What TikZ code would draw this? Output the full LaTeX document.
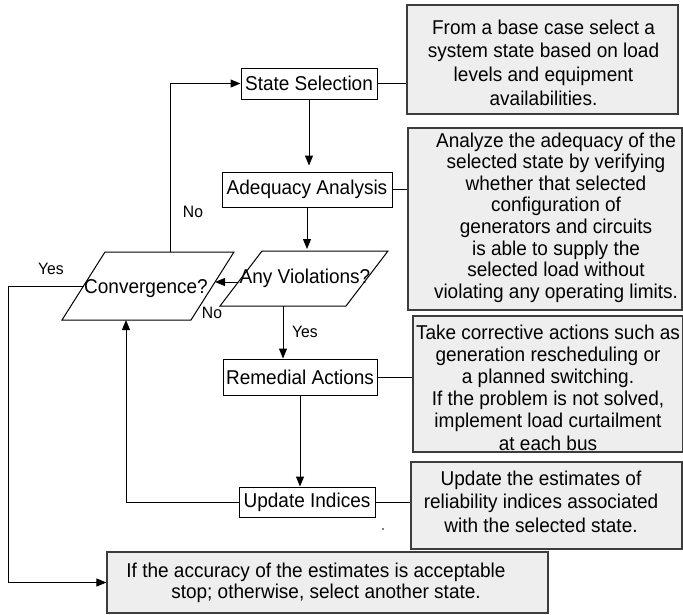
\documentclass[tikz,border=0pt]{standalone}
\usepackage{fontspec}
\setmainfont{Liberation Sans}[FakeStretch=0.95]
\usetikzlibrary{arrows.meta}
\definecolor{boxfill}{HTML}{EEEEEE}
\definecolor{boxline}{HTML}{3C3C3C}
\tikzset{
  stepbox/.style={draw=black, line width=1pt, fill=white, inner sep=0pt,
    font=\fontsize{20}{22}\selectfont},
  notebox/.style={draw=boxline, line width=1.2pt, fill=boxfill, inner sep=0pt},
  notetext/.style={align=center, inner sep=0pt},
  qtext/.style={inner sep=0pt, font=\fontsize{20}{22}\selectfont},
  lbl/.style={inner sep=0pt, font=\fontsize{16.5}{18}\selectfont},
  arr/.style={-{Triangle[length=10pt,width=8pt]}, line width=1pt},
  ln/.style={line width=1pt},
}
\begin{document}
\begin{tikzpicture}[x=1pt,y=-1pt]
\useasboundingbox (0,0) rectangle (683,614);

% right-hand note boxes
\node[notebox, minimum width=271pt, minimum height=109pt] (b1) at (542.5,59.5) {};
\node[notetext, font=\fontsize{20}{23.7}\selectfont] (t1) at (543.5,62.5)
  {From a base case select a\\ system state based on load\\ levels and equipment\\ availabilities.};
\node[notebox, minimum width=274pt, minimum height=182pt] (b2) at (545,219) {};
\node[notetext, font=\fontsize{20}{21.6}\selectfont] (t2) at (556,217.5)
  {Analyze the adequacy of the\\ selected state by verifying\\ whether that selected\\ configuration of\\ generators and circuits\\ is able to supply the\\ selected load without\\ violating any operating limits.};
\node[notebox, minimum width=270pt, minimum height=136pt] (b3) at (548,384) {};
\node[notetext, font=\fontsize{20}{22.2}\selectfont] (t3) at (548,387.5)
  {Take corrective actions such as\\ generation rescheduling or\\ a planned switching.\\ If the problem is not solved,\\ implement load curtailment\\ at each bus};
\node[notebox, minimum width=271pt, minimum height=87pt] (b4) at (546.5,505.5) {};
\node[notetext, font=\fontsize{20}{23.5}\selectfont] (t4) at (541,501.5)
  {Update the estimates of\\ reliability indices associated\\ with the selected state.};
\node[notebox, minimum width=441pt, minimum height=61pt] (bot) at (327.5,582.5) {};
\node[notetext, font=\fontsize{20}{21}\selectfont] (t5) at (321,582.5)
  {If the accuracy of the estimates is acceptable\hspace*{10pt}\\ \hspace*{10pt}stop; otherwise, select another state.};

% process boxes
\node[stepbox, minimum width=136pt, minimum height=31pt] (ss) at (309,83.5) {State Selection};
\node[stepbox, minimum width=170pt, minimum height=35pt] (ad) at (307,189.5) {Adequacy Analysis};
\node[stepbox, minimum width=154pt, minimum height=36pt] (rem) at (300,377) {Remedial Actions};
\node[stepbox, minimum width=136pt, minimum height=30pt] (up) at (307,502) {Update Indices};

% decision parallelograms
\draw[ln, fill=white] (105,252) -- (234,252) -- (191,320) -- (62,320) -- cycle;
\node[qtext] (conv) at (146,289) {Convergence?};
\draw[ln, fill=white] (262,251) -- (388,251) -- (346,306) -- (220,306) -- cycle;
\node[qtext] (av) at (305,278) {Any Violations?};

\coordinate (convTop) at (170,252);
\coordinate (convLeft) at (83.5,286);
\coordinate (convRight) at (215,282);
\coordinate (convBot) at (126,320);
\coordinate (avLeft) at (238.3,282);
\coordinate (avTop) at (307,251);
\coordinate (avBot) at (283,306);
\coordinate (turnY) at (8,286);

% connectors
\draw[arr] (convTop) |- (ss.west);
\draw[arr, shorten >=6pt] (ss.south) -- (ss.south |- ad.north);
\draw[arr, shorten >=2pt] (ad.south) -- (avTop);
\draw[arr] (avLeft) -- (convRight);
\draw[arr] (avBot) -- (avBot |- rem.north);
\draw[arr] (rem.south) -- (rem.south |- up.north);
\draw[arr] (up.west) -| (convBot);
\draw[arr] (convLeft) -- (turnY) |- (bot.west);

\draw[ln] (ss.east) -- (ss.east -| b1.west);
\draw[ln] (ad.east) -- (ad.east -| b2.west);
\draw[ln] (rem.east) -- (rem.east -| b3.west);
\draw[ln] (up.east) -- (up.east -| b4.west);

% labels
\node[lbl] (no1) at (193,212) {No};
\node[lbl] (no2) at (212,313) {No};
\node[lbl] (yes1) at (51,269) {Yes};
\node[lbl] (yes2) at (305,332) {Yes};

\fill (383,529) circle (0.9pt);
\end{tikzpicture}
\end{document}
